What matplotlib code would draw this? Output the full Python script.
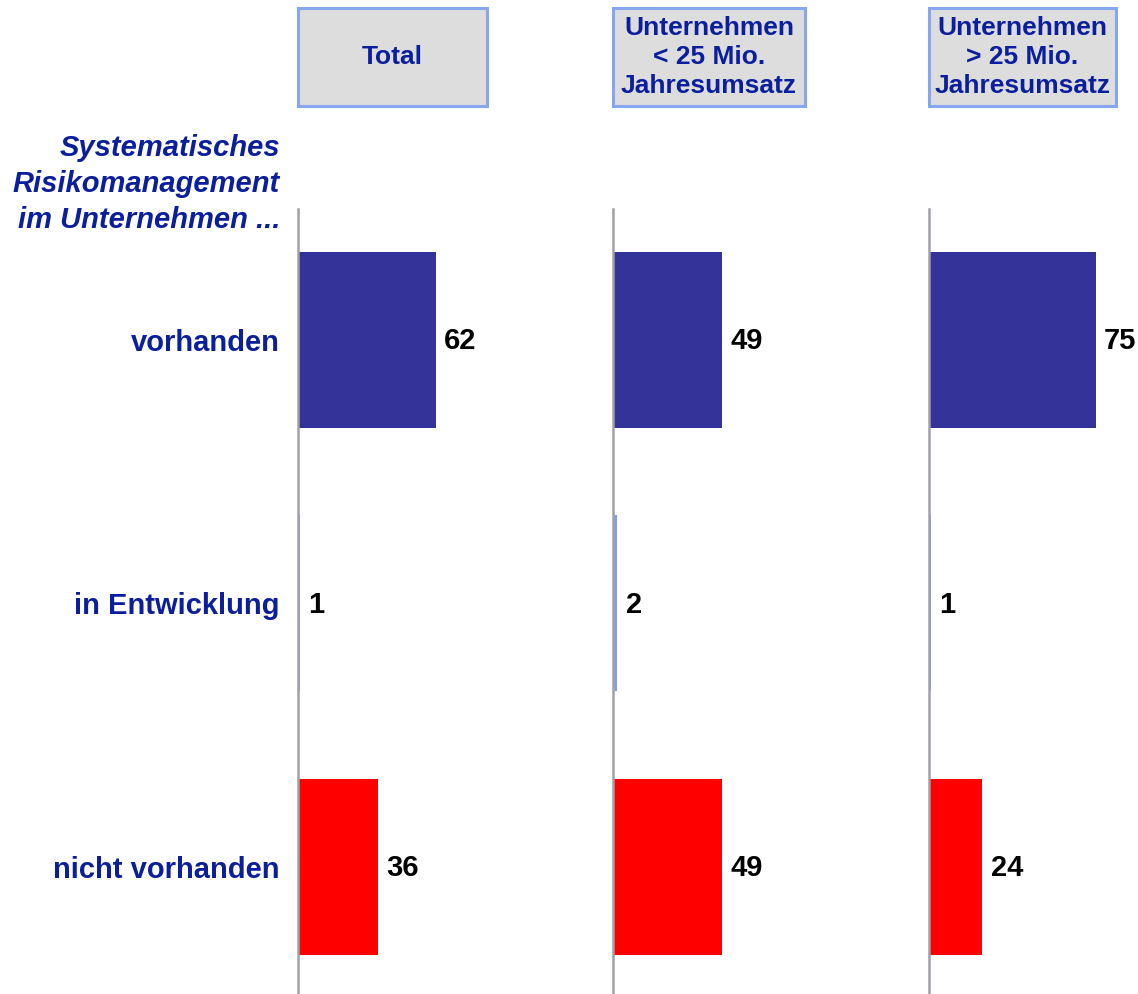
import matplotlib
matplotlib.use("Agg")
import matplotlib.pyplot as plt
from matplotlib.patches import Rectangle

plt.rcParams["font.family"] = ["Liberation Sans", "DejaVu Sans"]

# ── Data ─────────────────────────────────────────────────────────────────────
categories = ["vorhanden", "in Entwicklung", "nicht vorhanden"]
groups = ["Total", "Unternehmen\n< 25 Mio.\nJahresumsatz", "Unternehmen\n> 25 Mio.\nJahresumsatz"]
total = [62, 1, 36]
small = [49, 2, 49]
large = [75, 1, 24]
series = [total, small, large]
title = "Systematisches\nRisikomanagement\nim Unternehmen ..."

BAR_COLORS = ["#343399", "#7c9ff0", "#ff0000"]
TEXT_BLUE = "#0a1e9e"
W, H = 1138, 994

fig = plt.figure(figsize=(W / 100, H / 100), dpi=100)

# panel geometry in pixels
lefts = [298, 613, 929]
box_w = [189, 192, 187]
ax_w = 300
px_per_unit = 2.225

for i, (left, vals) in enumerate(zip(lefts, series)):
    ax = fig.add_axes([left / W, 0, ax_w / W, (H - 209) / H])
    ax.barh(range(len(categories)), vals, height=0.668, color=BAR_COLORS, linewidth=0)
    ax.set_xlim(0, ax_w / px_per_unit)
    ax.set_ylim(2.482, -0.497)
    for s in ["top", "right", "bottom"]:
        ax.spines[s].set_visible(False)
    ax.spines["left"].set_color("#a0a0a8")
    ax.spines["left"].set_linewidth(1.8)
    ax.set_xticks([])
    ax.tick_params(axis="y", length=0, pad=13)
    ax.set_yticks(range(len(categories)))
    if i == 0:
        ax.set_yticklabels(categories, fontsize=21, fontweight="bold", color=TEXT_BLUE)
    else:
        ax.set_yticklabels([])
    ax.patch.set_visible(False)
    for y, v in enumerate(vals):
        ax.annotate(str(v), (v, y), xytext=(6, -1), textcoords="offset points",
                    ha="left", va="center", fontsize=21, fontweight="bold", color="black")

    # header box
    bx, by, bw, bh = left, 8, box_w[i], 98
    fig.patches.append(Rectangle((bx / W, 1 - (by + bh) / H), bw / W, bh / H,
                                 transform=fig.transFigure, facecolor="#dddddd",
                                 edgecolor="#86a6f0", linewidth=2.2))
    fig.text((bx + bw / 2) / W, 1 - (by + bh / 2) / H, groups[i], ha="center", va="center",
             fontsize=19, fontweight="bold", color=TEXT_BLUE, linespacing=1.27)

fig.text(280 / W, 1 - 184 / H, title, ha="right", va="center", multialignment="right",
         fontsize=21, fontweight="bold", fontstyle="italic", color=TEXT_BLUE, linespacing=1.37)

fig.savefig("out.png", dpi=100)
